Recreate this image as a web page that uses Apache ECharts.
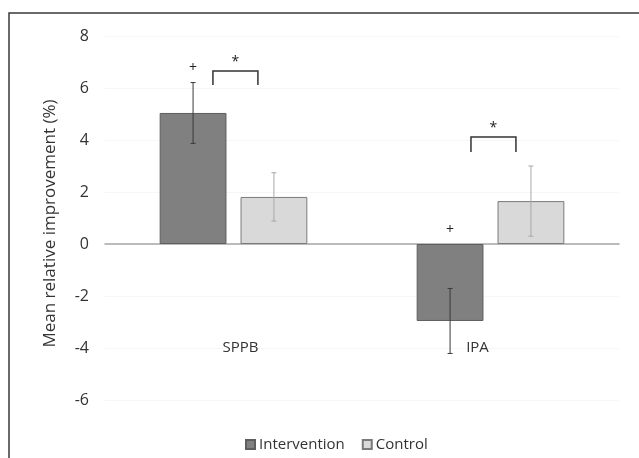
<!DOCTYPE html>
<html>
<head>
<meta charset="utf-8">
<script src="https://cdn.jsdelivr.net/npm/echarts@6/dist/echarts.min.js"></script>
<style>
html,body{margin:0;padding:0;background:#fff;}
#chart{width:639px;height:458px;}
</style>
</head>
<body>
<div id="chart"></div>
<script>
// ---- Data ----
var categories = ['SPPB', 'IPA'];
var seriesNames = ['Intervention', 'Control'];
var intervention = [5.04, -2.96];
var control = [1.81, 1.65];
var interventionErr = [1.17, 1.25];
var controlErr = [0.93, 1.35];
var yTicks = [-6, -4, -2, 0, 2, 4, 6, 8];
// annotation values (y in data units, x offsets relative to category centre)
var plusY = [6.75, 0.55];
var bracketX0 = [-0.08, -0.076];
var bracketX1 = [0.095, 0.099];
var bracketTop = [6.65, 4.12];
var bracketBottom = [6.12, 3.54];
var starY = [7.0, 4.46];

// ---- Layout constants ----
var BAR_W = 0.26;       // fraction of band
var BAR_GAP = 0.21;     // fraction of bar width
var barOffset = (BAR_W + BAR_W * BAR_GAP) / 2;

var chart = echarts.init(document.getElementById('chart'));

var errData = [];
categories.forEach(function (c, i) {
  errData.push([i - barOffset, intervention[i], interventionErr[i], 0]);
  errData.push([i + barOffset, control[i], controlErr[i], 1]);
});
var bracketData = categories.map(function (c, i) {
  return [i + bracketX0[i], i + bracketX1[i], bracketTop[i], bracketBottom[i]];
});
var textData = [];
categories.forEach(function (c, i) {
  textData.push([i - barOffset, plusY[i], '+']);
  textData.push([i + (bracketX0[i] + bracketX1[i]) / 2, starY[i], '*']);
});

var labelShift = [7, -13];

var option = {
  animation: false,
  backgroundColor: '#ffffff',
  textStyle: { fontFamily: 'Open Sans' },
  graphic: [{
    type: 'rect',
    shape: { x: 9, y: 13, width: 800, height: 600 },
    style: { fill: 'none', stroke: '#3a3a3a', lineWidth: 1.5 },
    silent: true,
    z: 100
  }],
  grid: { left: 105, right: 20, top: 36, bottom: 58, containLabel: false, outerBoundsMode: 'none' },
  legend: {
    data: seriesNames,
    left: 240,
    top: 432,
    itemWidth: 9,
    itemHeight: 9,
    itemGap: 17,
    icon: 'rect',
    textStyle: { fontFamily: 'Open Sans', fontSize: 15, color: '#333', padding: [0, 0, 0, -1] }
  },
  xAxis: [{
    type: 'category',
    data: categories,
    axisLine: { onZero: true, lineStyle: { color: '#a6a6a6', width: 1.5 } },
    axisTick: { show: false },
    axisLabel: { show: false },
    splitLine: { show: false }
  }, {
    type: 'value',
    min: -0.5, max: 1.5,
    show: false
  }, {
    type: 'category',
    position: 'bottom',
    data: categories.map(function (c, i) {
      var s = labelShift[i];
      return { value: c, textStyle: { padding: s >= 0 ? [0, 0, 0, 2 * s] : [0, -2 * s, 0, 0] } };
    }),
    axisLine: { show: false, onZero: false },
    axisTick: { show: false },
    axisLabel: { show: true, margin: -60, fontSize: 15, color: '#333', fontFamily: 'Open Sans' },
    splitLine: { show: false }
  }],
  yAxis: {
    type: 'value',
    min: -6, max: 8, interval: 2,
    name: 'Mean relative improvement (%)',
    nameLocation: 'middle',
    nameGap: 46,
    nameTextStyle: { fontSize: 17, color: '#333', fontFamily: 'Open Sans', padding: [0, 11, 0, 0] },
    axisLine: { show: false },
    axisTick: { show: false },
    axisLabel: { margin: 16, fontSize: 16, color: '#333', fontFamily: 'Open Sans' },
    splitLine: { show: true, lineStyle: { color: '#f6f6f6', width: 1 } }
  },
  series: [{
    name: seriesNames[0],
    type: 'bar',
    data: intervention,
    barWidth: (BAR_W * 100) + '%',
    barGap: (BAR_GAP * 100) + '%',
    itemStyle: { color: '#808080', borderColor: '#5e5e5e', borderWidth: 1 }
  }, {
    name: seriesNames[1],
    type: 'bar',
    data: control,
    barWidth: (BAR_W * 100) + '%',
    itemStyle: { color: '#d9d9d9', borderColor: '#7a7a7a', borderWidth: 1 }
  }, {
    type: 'custom',
    xAxisIndex: 1,
    data: errData,
    z: 10,
    renderItem: function (params, api) {
      var x = api.value(0), y = api.value(1), e = api.value(2), s = api.value(3);
      var p1 = api.coord([x, y + e]);
      var p2 = api.coord([x, y - e]);
      var col = s === 0 ? '#3a3a3a' : '#a8a8a8';
      var st = { stroke: col, lineWidth: 1 };
      return {
        type: 'group',
        children: [
          { type: 'line', shape: { x1: p1[0], y1: p1[1], x2: p2[0], y2: p2[1] }, style: st },
          { type: 'line', shape: { x1: p1[0] - 2.5, y1: p1[1], x2: p1[0] + 2.5, y2: p1[1] }, style: st },
          { type: 'line', shape: { x1: p2[0] - 2.5, y1: p2[1], x2: p2[0] + 2.5, y2: p2[1] }, style: st }
        ]
      };
    }
  }, {
    type: 'custom',
    xAxisIndex: 1,
    data: bracketData,
    z: 10,
    renderItem: function (params, api) {
      var a = api.coord([api.value(0), api.value(3)]);
      var b = api.coord([api.value(0), api.value(2)]);
      var c = api.coord([api.value(1), api.value(2)]);
      var d = api.coord([api.value(1), api.value(3)]);
      return {
        type: 'polyline',
        shape: { points: [a, b, c, d] },
        style: { stroke: '#333', lineWidth: 1.5, fill: 'none' }
      };
    }
  }, {
    type: 'custom',
    xAxisIndex: 1,
    data: textData,
    z: 10,
    renderItem: function (params, api) {
      var p = api.coord([api.value(0), api.value(1)]);
      return {
        type: 'text',
        x: p[0], y: p[1],
        style: {
          text: textData[params.dataIndex][2],
          fill: '#222',
          fontSize: 14,
          fontFamily: 'Open Sans',
          align: 'center',
          verticalAlign: 'middle'
        }
      };
    }
  }]
};
chart.setOption(option);
</script>
</body>
</html>
